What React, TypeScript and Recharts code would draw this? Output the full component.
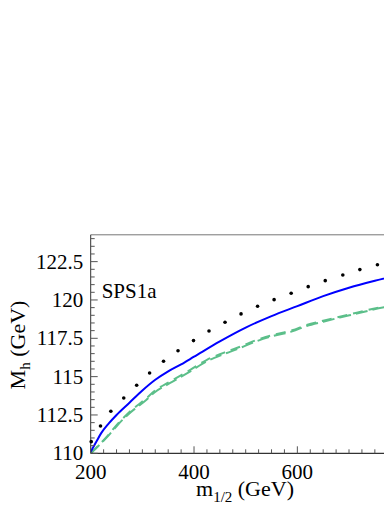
import React from 'react';
import { LineChart, Line, XAxis, YAxis, Customized } from 'recharts';

// m_1/2 (GeV) vs M_h (GeV), SPS1a
const dottedX = [201, 219, 239, 264, 289, 314, 341, 369, 399, 429, 460, 491, 523, 555, 588, 621, 654, 688, 721, 755, 789, 823];
const dottedY = [110.76, 111.78, 112.74, 113.61, 114.44, 115.24, 116.0, 116.69, 117.35, 117.98, 118.55, 119.09, 119.59, 120.02, 120.44, 120.87, 121.26, 121.63, 121.98, 122.3, 122.62, 122.92];

const blueX = [200, 210, 220, 235, 250, 275, 300, 325, 350, 375, 400, 450, 500, 550, 600, 650, 700, 750, 800, 850];
const blueY = [110.1, 110.7, 111.3, 111.95, 112.5, 113.3, 114.1, 114.8, 115.35, 115.8, 116.3, 117.3, 118.2, 118.95, 119.6, 120.25, 120.8, 121.25, 121.65, 122.0];

const greenX = [200, 233, 253, 272, 308, 324, 353, 392, 425, 457, 489, 521, 553, 590, 618, 650, 682, 715, 747, 780, 850];
const greenAY = [110.0, 111.15, 111.95, 112.6, 113.6, 114.08, 114.67, 115.43, 116.1, 116.55, 116.95, 117.39, 117.72, 118.02, 118.37, 118.65, 118.91, 119.17, 119.43, 119.65, 120.0];
const greenBY = [110.0, 111.1, 111.88, 112.52, 113.5, 113.98, 114.57, 115.33, 116.0, 116.46, 116.87, 117.31, 117.65, 117.95, 118.3, 118.58, 118.85, 119.11, 119.37, 119.6, 119.95];

const xMajor = [200, 400, 600, 800, 1000];
const yMajor = [110, 112.5, 115, 117.5, 120, 122.5];
const xTicks = Array.from({ length: 33 }, (_, i) => 200 + i * 25);
const yTicks = Array.from({ length: 29 }, (_, i) => 110 + i * 0.5);

const toPoints = (xs: number[], ys: number[]) => xs.map((x, i) => ({ x, y: ys[i] }));
const dotted = toPoints(dottedX, dottedY);
const blue = toPoints(blueX, blueY);
const greenA = toPoints(greenX, greenAY);
const greenB = toPoints(greenX, greenBY);

const serif = { fontFamily: 'Liberation Serif, Times New Roman, DejaVu Serif, serif' };

const YTick = (props: any) => {
  const { x, y, payload } = props;
  const major = yMajor.includes(payload.value);
  return (
    <g>
      <line x1={x} x2={x + (major ? 7 : 4)} y1={y} y2={y} stroke="#555" strokeWidth={1} />
      {major && (
        <text x={x - 7.5} y={y} dy="0.33em" textAnchor="end" fontSize={21} style={serif} fill="#000">
          {payload.value}
        </text>
      )}
    </g>
  );
};

const XTick = (props: any) => {
  const { x, y, payload } = props;
  const major = xMajor.includes(payload.value);
  return (
    <g>
      <line x1={x} x2={x} y1={y} y2={y - (major ? 7 : 4)} stroke="#555" strokeWidth={1} />
      {major && (
        <text x={x} y={y + 26} textAnchor="middle" fontSize={21} style={serif} fill="#000">
          {payload.value}
        </text>
      )}
    </g>
  );
};

const TopTick = (props: any) => {
  const { x, y, payload } = props;
  const major = xMajor.includes(payload.value);
  return <line x1={x} x2={x} y1={y} y2={y + (major ? 7 : 4)} stroke="#777" strokeWidth={1} />;
};

const Labels = () => (
  <g style={serif} fill="#000">
    <text x={237} y={487.5} textAnchor="middle" fontSize={22} style={serif}>
      m<tspan fontSize={15} dy={6}>1/2</tspan>
      <tspan dy={-6}> (GeV)</tspan>
    </text>
    <text x={17} y={337} textAnchor="middle" fontSize={22} style={serif} transform="rotate(-90 17 337)">
      M<tspan fontSize={15} dy={5}>h</tspan>
      <tspan dy={-5}> (GeV)</tspan>
    </text>
    <text x={93.7} y={289.7} fontSize={21} style={serif}>SPS1a</text>
  </g>
);

export default function App() {
  return (
    <div style={{ width: 384, height: 500, overflow: 'hidden', position: 'relative' }}>
      <LineChart width={500} height={500} margin={{ top: 225.8, right: 4, bottom: 0, left: 0 }}>
        <XAxis
          xAxisId="top"
          orientation="top"
          type="number"
          dataKey="x"
          domain={[200, 1000]}
          ticks={xTicks}
          interval={0}
          height={1}
          tickSize={0}
          tickMargin={0}
          tick={<TopTick />}
          axisLine={{ stroke: '#777' }}
        />
        <XAxis
          type="number"
          dataKey="x"
          domain={[200, 1000]}
          ticks={xTicks}
          interval={0}
          height={54.7}
          tickSize={0}
          tickMargin={0}
          tick={<XTick />}
          axisLine={{ stroke: '#000' }}
        />
        <YAxis
          type="number"
          dataKey="y"
          domain={[110, 124.25]}
          ticks={yTicks}
          interval={0}
          width={82.7}
          tickSize={0}
          tickMargin={0}
          tick={<YTick />}
          axisLine={{ stroke: '#333' }}
          allowDataOverflow
        />
        <Line data={greenA} dataKey="y" type="monotone" stroke="#5cbf8a" strokeWidth={2} strokeDasharray="10 6" dot={false} isAnimationActive={false} />
        <Line data={greenB} dataKey="y" type="monotone" stroke="#5cbf8a" strokeWidth={2} strokeDasharray="12 5" dot={false} isAnimationActive={false} />
        <Line data={blue} dataKey="y" type="monotone" stroke="#0000ff" strokeWidth={2} dot={false} isAnimationActive={false} />
        <Line
          data={dotted}
          dataKey="y"
          type="linear"
          stroke="none"
          dot={{ r: 1.8, fill: '#000', stroke: 'none' }}
          isAnimationActive={false}
        />
        <Customized component={Labels} />
      </LineChart>
    </div>
  );
}
